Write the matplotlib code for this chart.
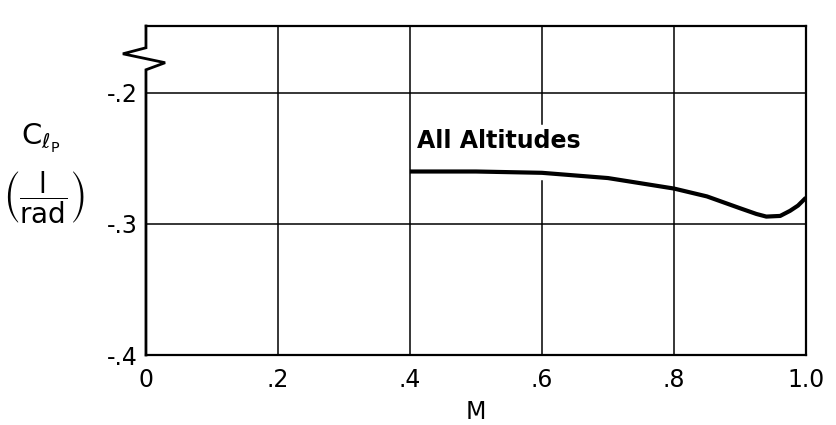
import numpy as np
import matplotlib
matplotlib.use("Agg")
from matplotlib import pyplot as plt

# values
mach = [0.40, 0.50, 0.60, 0.70, 0.80, 0.85, 0.90, 0.925, 0.94, 0.961, 0.976, 0.988, 1.00]
clp = [-0.260, -0.260, -0.261, -0.265, -0.273, -0.279, -0.288, -0.2924, -0.2944, -0.2939, -0.290, -0.286, -0.280]
xticks = [0, 0.2, 0.4, 0.6, 0.8, 1.0]
xticklabels = ["0", ".2", ".4", ".6", ".8", "1.0"]
yticks = [-0.4, -0.3, -0.2]
yticklabels = ["-.4", "-.3", "-.2"]

plt.rcParams['mathtext.fontset'] = 'dejavusans'
plt.rcParams['font.family'] = ['DejaVu Sans']

fig = plt.figure(figsize=(8.36, 4.25), dpi=100)
ax = fig.add_axes([0.1746, 0.1647, 0.964 - 0.1746, 0.9388 - 0.1647])
ax.set_xlim(0, 1.0)
ax.set_ylim(-0.4, -0.149)

# grid
for yv in [-0.3, -0.2]:
    ax.axhline(yv, color="black", lw=1.1, zorder=1)
for xv in [0.2, 0.4, 0.8]:
    ax.axvline(xv, color="black", lw=1.1, zorder=1)
# .6 line is broken where the label sits
lo, hi = ax.get_ylim()
ax.axvline(0.6, ymin=0, ymax=(-0.2675 - lo) / (hi - lo), color="black", lw=1.1, zorder=1)
ax.axvline(0.6, ymin=(-0.2235 - lo) / (hi - lo), ymax=1, color="black", lw=1.1, zorder=1)

ax.plot(mach, clp, color="black", lw=3.0, solid_capstyle="butt",
        solid_joinstyle="round", zorder=3)
ax.text(0.41, -0.242, "All Altitudes", fontsize=17, fontweight="bold", ha="left", va="baseline")

for s in ["top", "bottom", "right"]:
    ax.spines[s].set_linewidth(1.6)
ax.spines["left"].set_visible(False)

# left axis with the break mark
bx = [0, 0, -0.035, 0.029, 0, 0]
by = [-0.149, -0.1656, -0.1702, -0.177, -0.1824, -0.4]
ax.plot(bx, by, color="black", lw=2.0, clip_on=False, zorder=4, solid_joinstyle="miter")

ax.set_xticks(xticks)
ax.set_xticklabels(xticklabels, fontsize=17)
ax.set_yticks(yticks)
ax.set_yticklabels(yticklabels, fontsize=17)
ax.tick_params(length=0, pad=6)
ax.tick_params(axis="x", pad=9)

ax.set_xlabel("M", fontsize=17, labelpad=6)

fig.text(0.048, 0.675, r"$\mathrm{C}_{\ell_{\mathrm{P}}}$", fontsize=21, ha="center", va="center")
fig.text(0.052, 0.535, r"$\left(\dfrac{\mathrm{l}}{\mathrm{rad}}\right)$", fontsize=20, ha="center", va="center")

fig.savefig("out.png", dpi=100)
